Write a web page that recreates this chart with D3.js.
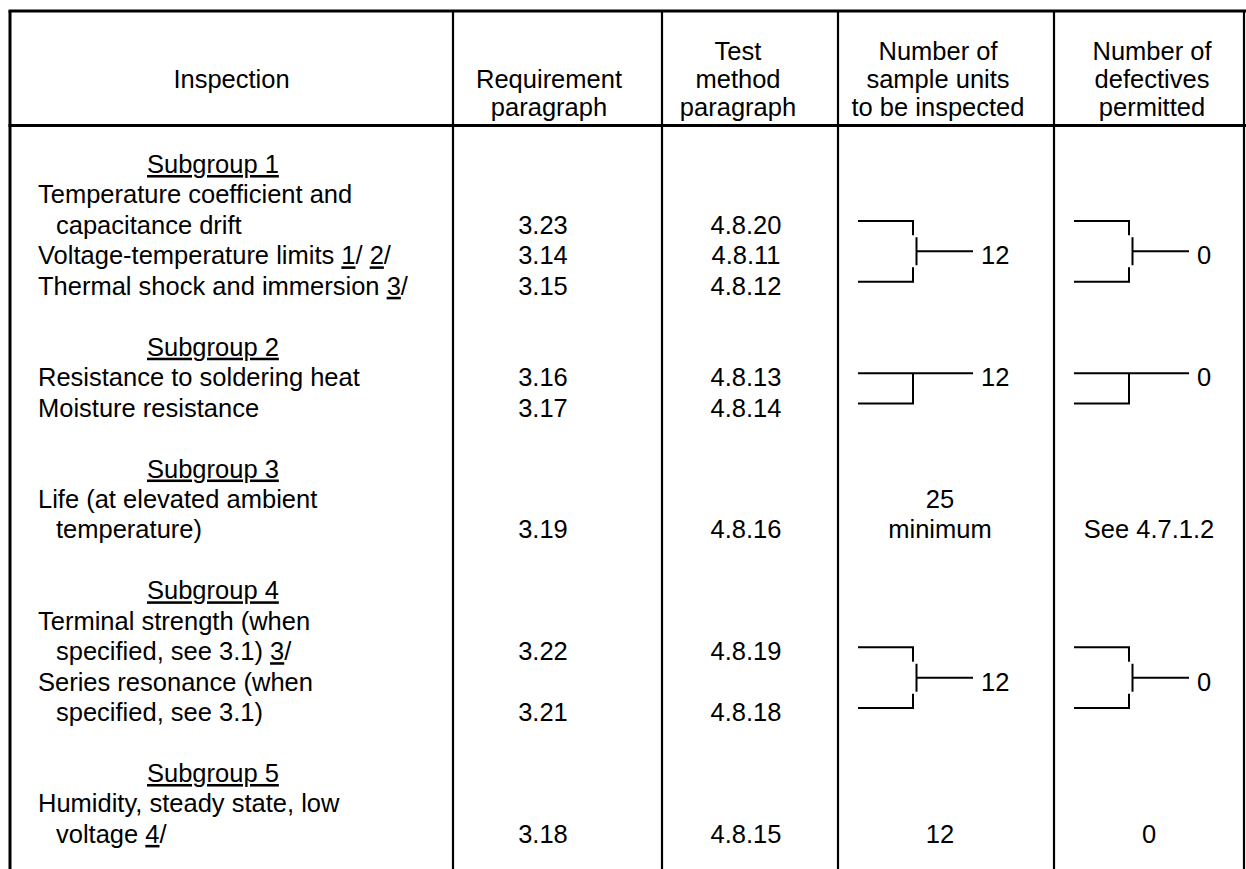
<!DOCTYPE html>
<html><head><meta charset="utf-8">
<script src="https://cdn.jsdelivr.net/npm/d3@7"></script>
<style>
html,body{margin:0;padding:0;background:#fff;}
svg{display:block;}
text{font-family:"Liberation Sans", Arial, Helvetica, sans-serif; font-size:25.5px; fill:#000;}
.u{text-decoration:underline;}
</style></head><body>
<svg id="chart" width="1246" height="869"></svg>
<script>
// ---------- data ----------
const columnHeaders = [
  ["Inspection"],
  ["Requirement", "paragraph"],
  ["Test", "method", "paragraph"],
  ["Number of", "sample units", "to be inspected"],
  ["Number of", "defectives", "permitted"]
];
const subgroups = ["Subgroup 1", "Subgroup 2", "Subgroup 3", "Subgroup 4", "Subgroup 5"];
const lineSubgroup = [0, 0, 0, 0, 1, 1, 2, 2, 3, 3, 3, 3, 4, 4];
const lineText = [
  "Temperature coefficient and", "capacitance drift",
  "Voltage-temperature limits _1_/ _2_/", "Thermal shock and immersion _3_/",
  "Resistance to soldering heat", "Moisture resistance",
  "Life (at elevated ambient", "temperature)",
  "Terminal strength (when", "specified, see 3.1) _3_/",
  "Series resonance (when", "specified, see 3.1)",
  "Humidity, steady state, low", "voltage _4_/"
];
const lineContinued = [false, true, false, false, false, false, false, true, false, true, false, true, false, true];
const requirementPara = ["", "3.23", "3.14", "3.15", "3.16", "3.17", "", "3.19", "", "3.22", "", "3.21", "", "3.18"];
const testMethodPara = ["", "4.8.20", "4.8.11", "4.8.12", "4.8.13", "4.8.14", "", "4.8.16", "", "4.8.19", "", "4.8.18", "", "4.8.15"];
const sampleUnits = [["12"], ["12"], ["25", "minimum"], ["12"], ["12"]];
const defectivesPermitted = [["0"], ["0"], ["See 4.7.1.2"], ["0"], ["0"]];
const bracketStyle = ["middle", "top", "none", "middle", "none"];

// ---------- layout ----------
const svg = d3.select("#chart");
const colEdges = [10, 453, 662, 838, 1054, 1244];
const topY = 11, headBottom = 125.5, bottomY = 869;
const headCenters = [231.5, 549, 738, 938, 1152];
const bodyCenters = {req: 543, test: 746, sample: 940, defect: 1149};

// rows: subgroup header, its lines, blank
const rows = [];
subgroups.forEach((s, g) => {
  rows.push({type: "sub", g, text: s});
  lineText.forEach((t, i) => { if (lineSubgroup[i] === g) rows.push({type: "line", g, i}); });
  rows.push({type: "blank", g});
});
rows.forEach((r, n) => r.n = n);
const y = d3.scaleLinear().domain([0, 22]).range([164, 164 + 22 * 30.45]);
const base = n => y(n) + 9;

// header line positions (baseline by line index from the bottom)
const hy = d3.scaleLinear().domain([0, 2]).range([116, 60]);

// ---------- grid ----------
const grid = svg.append("g").attr("stroke", "#000").attr("fill", "none");
grid.append("line").attr("x1", colEdges[0] - 1.5).attr("x2", 1246).attr("y1", topY).attr("y2", topY).attr("stroke-width", 3);
grid.append("line").attr("x1", colEdges[0] - 1.5).attr("x2", 1246).attr("y1", headBottom).attr("y2", headBottom).attr("stroke-width", 3);
grid.selectAll("line.v").data(colEdges).join("line").attr("class", "v")
  .attr("x1", d => d).attr("x2", d => d).attr("y1", topY).attr("y2", bottomY)
  .attr("stroke-width", (d, i) => i === 0 ? 3 : 2.2);

// ---------- header ----------
const head = svg.append("g");
columnHeaders.forEach((lines, c) => {
  const n = lines.length;
  lines.forEach((t, k) => {
    // single-line header sits on the middle line; others are bottom-aligned
    const idx = n === 1 ? 1 : (n - 1 - k);
    head.append("text").attr("x", headCenters[c]).attr("y", hy(idx))
      .attr("text-anchor", "middle").text(t);
  });
});

// ---------- text with underlines ----------
function richText(sel, str) {
  str.split(/(_[^_]+_)/).filter(s => s.length).forEach(seg => {
    if (seg[0] === "_") sel.append("tspan").attr("class", "u").text(seg.slice(1, -1));
    else sel.append("tspan").text(seg);
  });
}

const body = svg.append("g");
rows.forEach(r => {
  if (r.type === "sub") {
    body.append("text").attr("x", 147).attr("y", base(r.n)).attr("class", "u").text(r.text);
  } else if (r.type === "line") {
    const t = body.append("text").attr("x", lineContinued[r.i] ? 56 : 38).attr("y", base(r.n));
    richText(t, lineText[r.i]);
    if (requirementPara[r.i]) body.append("text").attr("x", bodyCenters.req).attr("y", base(r.n)).attr("text-anchor", "middle").text(requirementPara[r.i]);
    if (testMethodPara[r.i]) body.append("text").attr("x", bodyCenters.test).attr("y", base(r.n)).attr("text-anchor", "middle").text(testMethodPara[r.i]);
  }
});

// ---------- sample / defectives columns ----------
const brk = svg.append("g").attr("stroke", "#000").attr("stroke-width", 2).attr("fill", "none");
subgroups.forEach((s, g) => {
  const dataRows = rows.filter(r => r.type === "line" && r.g === g && requirementPara[r.i]);
  const allRows = rows.filter(r => r.type === "line" && r.g === g);
  const yT = y(dataRows[0].n) - 4, yB = y(dataRows[dataRows.length - 1].n) - 4;
  [[3, sampleUnits[g], bodyCenters.sample], [4, defectivesPermitted[g], bodyCenters.defect]].forEach(([c, vals, cx]) => {
    const L = colEdges[c];
    if (bracketStyle[g] === "middle") {
      const mid = (yT + yB) / 2;
      brk.append("path").attr("d",
        `M${L + 20},${yT}H${L + 75}V${mid - 16}` +
        `M${L + 78.5},${mid - 14}V${mid + 14}` +
        `M${L + 75},${mid + 16}V${yB}H${L + 20}` +
        `M${L + 78.5},${mid}H${L + 135}`);
      svg.append("text").attr("x", L + 143).attr("y", mid + 13).text(vals[0]);
    } else if (bracketStyle[g] === "top") {
      brk.append("path").attr("d",
        `M${L + 20},${yT}H${L + 135}M${L + 75},${yT}V${yB}H${L + 20}`);
      svg.append("text").attr("x", L + 143).attr("y", yT + 13).text(vals[0]);
    } else {
      const last = allRows[allRows.length - 1].n;
      vals.forEach((v, k) => {
        svg.append("text").attr("x", cx).attr("y", base(last - (vals.length - 1 - k)))
          .attr("text-anchor", "middle").text(v);
      });
    }
  });
});
</script>
</body></html>
